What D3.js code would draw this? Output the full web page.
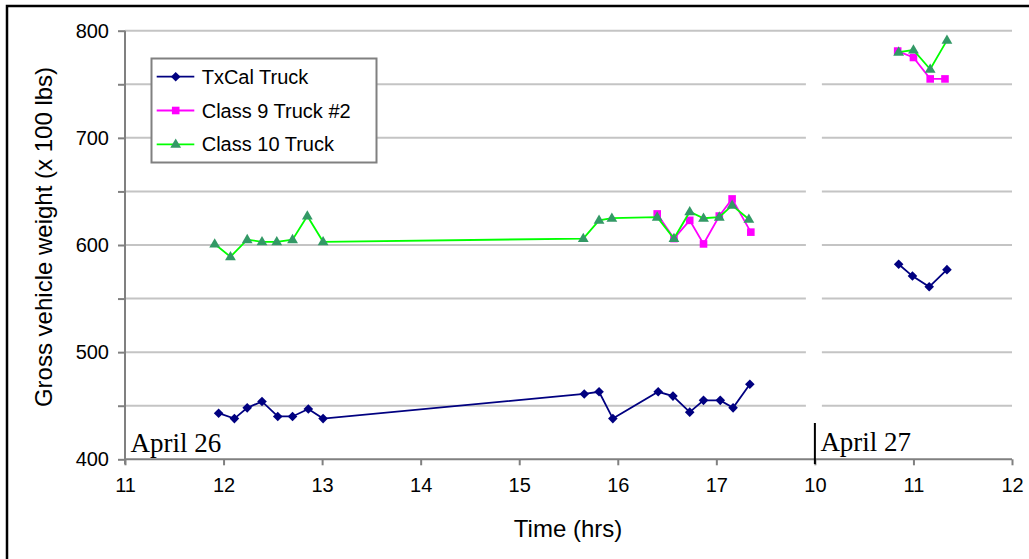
<!DOCTYPE html>
<html>
<head>
<meta charset="utf-8">
<script src="https://cdn.jsdelivr.net/npm/d3@7"></script>
<style>
  html, body { margin: 0; padding: 0; background: #ffffff; }
  svg { display: block; font-family: "Liberation Sans", Arial, sans-serif; }
</style>
</head>
<body>
<svg id="chart" width="1029" height="559"></svg>
<script>
// Hour tick labels along the time axis (April 26 11–17 h, then April 27 10–12 h)
const hourTicks = ["11", "12", "13", "14", "15", "16", "17", "10", "11", "12"];
const dayLabels = ["April 26", "April 27"];
const weightTicks = [400, 450, 500, 550, 600, 650, 700, 750, 800];

// TxCal Truck
const txcalApr26Time = [11.95, 12.11, 12.24, 12.39, 12.55, 12.70, 12.86, 13.01, 15.66, 15.81, 15.95, 16.41, 16.56, 16.73, 16.87, 17.04, 17.17, 17.34];
const txcalApr26 =     [443,   438,   448,   454,   440,   440,   447,   438,   461,   463,   438,   463,   459,   444,   455,   455,   448,   470];
const txcalApr27Time = [10.85, 10.99, 11.16, 11.34];
const txcalApr27 =     [582,   571,   561,   577];

// Class 9 Truck #2
const class9Apr26Time = [16.40, 16.57, 16.73, 16.87, 17.03, 17.16, 17.35];
const class9Apr26 =     [629,   606,   623,   601,   627,   643,   612];
const class9Apr27Time = [10.84, 11.00, 11.17, 11.32];
const class9Apr27 =     [781,   775,   755,   755];

// Class 10 Truck
const class10Apr26Time = [11.91, 12.07, 12.24, 12.39, 12.54, 12.70, 12.85, 13.01, 15.65, 15.81, 15.94, 16.40, 16.57, 16.73, 16.87, 17.03, 17.16, 17.33];
const class10Apr26 =     [601,   589,   605,   603,   603,   605,   627,   603,   606,   623,   625,   626,   606,   631,   625,   626,   637,   624];
const class10Apr27Time = [10.85, 11.00, 11.17, 11.34];
const class10Apr27 =     [780,   782,   764,   791];

// April 27 hours sit after 17 h of April 26: 10 h on the 27th lands on axis position 18
const apr27Shift = 8;

const series = [
  { name: "TxCal Truck", line: "#000080", marker: "#000080", shape: "diamond",
    days: [[txcalApr26Time, txcalApr26, 0], [txcalApr27Time, txcalApr27, apr27Shift]] },
  { name: "Class 9 Truck #2", line: "#ff00ff", marker: "#ff00ff", shape: "square",
    days: [[class9Apr26Time, class9Apr26, 0], [class9Apr27Time, class9Apr27, apr27Shift]] },
  { name: "Class 10 Truck", line: "#00ff00", marker: "#339966", shape: "triangle",
    days: [[class10Apr26Time, class10Apr26, 0], [class10Apr27Time, class10Apr27, apr27Shift]] }
];

const svg = d3.select("#chart");
const serif = "'Liberation Serif', 'Times New Roman', serif";

// outer frame
svg.append("rect")
  .attr("x", 7).attr("y", 6).attr("width", 1100).attr("height", 700)
  .attr("fill", "#ffffff").attr("stroke", "#000").attr("stroke-width", 2.5);

const x = d3.scaleLinear().domain([11, 11 + hourTicks.length - 1]).range([125, 1012]);
const y = d3.scaleLinear().domain([400, 800]).range([459.3, 30.7]);
const breakPos = 11 + hourTicks.indexOf("10", 1);
const xBreak = x(breakPos);

// gridlines (interrupted at the day break, except the top one)
const grid = svg.append("g").attr("stroke", "#c4c4c4").attr("stroke-width", 2);
weightTicks.filter(v => v > 400).forEach(v => {
  if (v === 800) {
    grid.append("line").attr("x1", x(11)).attr("x2", x(20)).attr("y1", y(v)).attr("y2", y(v));
  } else {
    grid.append("line").attr("x1", x(11)).attr("x2", xBreak - 9).attr("y1", y(v)).attr("y2", y(v));
    grid.append("line").attr("x1", xBreak + 7).attr("x2", x(20)).attr("y1", y(v)).attr("y2", y(v));
  }
});

// axes
const yAxis = d3.axisLeft(y).tickValues(weightTicks)
  .tickFormat(d => d % 100 === 0 ? d : "").tickSize(7).tickPadding(9);
const gy = svg.append("g").attr("transform", `translate(${x(11)},0)`).call(yAxis);

const xAxis = d3.axisBottom(x).tickValues(d3.range(11, 21))
  .tickFormat((d, i) => hourTicks[i]).tickSize(6).tickPadding(13);
const gx = svg.append("g").attr("transform", `translate(0,${y(400)})`).call(xAxis);

[gx, gy].forEach(g => {
  g.attr("font-family", null).attr("font-size", null);
  g.select(".domain").attr("stroke", "#808080").attr("stroke-width", 2);
  g.selectAll(".tick line").attr("stroke", "#808080").attr("stroke-width", 2);
  g.selectAll(".tick text").attr("font-size", 20).attr("fill", "#000");
});
gx.select(".domain").attr("d", `M${x(11)},0H${x(20)}`);
gy.select(".domain").attr("d", `M0,${y(800)}V${y(400) + 5}`);

// day labels and divider
svg.append("line").attr("x1", xBreak).attr("x2", xBreak).attr("y1", 423).attr("y2", 464)
  .attr("stroke", "#000").attr("stroke-width", 2);
svg.append("text").attr("x", x(11) + 5.5).attr("y", 451.5).text(dayLabels[0])
  .style("font-family", serif).attr("font-size", 27);
svg.append("text").attr("x", xBreak + 5.5).attr("y", 450.5).text(dayLabels[1])
  .style("font-family", serif).attr("font-size", 27);

// axis titles
svg.append("text").attr("x", 568).attr("y", 537).attr("text-anchor", "middle")
  .attr("font-size", 24).text("Time (hrs)");
svg.append("text").attr("transform", "translate(51.5,237) rotate(-90)").attr("text-anchor", "middle")
  .attr("font-size", 24).text("Gross vehicle weight (x 100 lbs)");

// marker shapes
function markerPath(shape) {
  if (shape === "diamond") return "M0,-4.8L4.8,0L0,4.8L-4.8,0Z";
  if (shape === "square") return "M-3.8,-3.8H3.8V3.8H-3.8Z";
  return "M0,-5.8L5.4,3.5H-5.4Z";
}

const line = d3.line().x(d => x(d.pos)).y(d => y(d.v));

series.forEach(s => {
  const g = svg.append("g");
  s.days.forEach(([times, vals, shift]) => {
    const pts = times.map((t, i) => ({ pos: t + shift, v: vals[i] }));
    g.append("path").datum(pts).attr("d", line)
      .attr("fill", "none").attr("stroke", s.line).attr("stroke-width", 1.8);
    g.selectAll(null).data(pts).enter().append("path")
      .attr("transform", d => `translate(${x(d.pos)},${y(d.v)})`)
      .attr("d", markerPath(s.shape)).attr("fill", s.marker);
  });
});

// legend
const lg = svg.append("g");
lg.append("rect").attr("x", 151.5).attr("y", 58.5).attr("width", 225).attr("height", 104)
  .attr("fill", "#fff").attr("stroke", "#808080").attr("stroke-width", 2);
series.forEach((s, i) => {
  const cy = 76.7 + i * 33.8;
  lg.append("line").attr("x1", 156.7).attr("x2", 194.3).attr("y1", cy).attr("y2", cy)
    .attr("stroke", s.line).attr("stroke-width", 1.8);
  lg.append("path").attr("transform", `translate(175.7,${cy})`)
    .attr("d", markerPath(s.shape)).attr("fill", s.marker);
  lg.append("text").attr("x", 201.7).attr("y", cy).attr("dy", "0.35em")
    .attr("font-size", 20).text(s.name);
});
</script>
</body>
</html>
